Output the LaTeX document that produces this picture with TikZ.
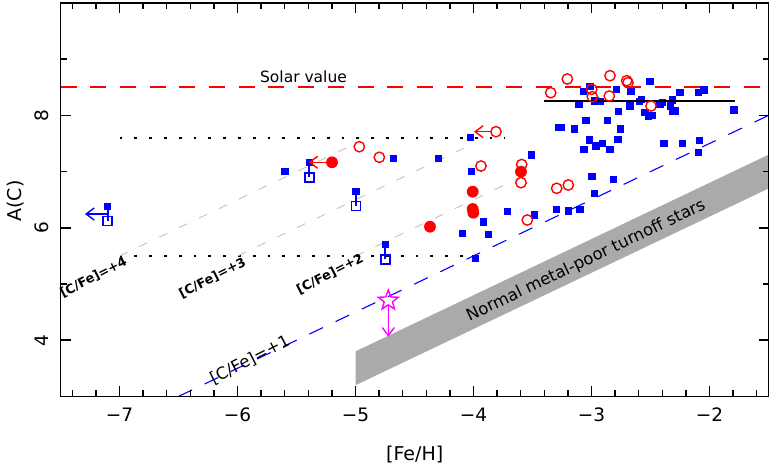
\documentclass[tikz,border=0pt]{standalone}
\usepackage{fontspec}
\setmainfont{DejaVu Sans}
\usetikzlibrary{arrows.meta,shapes.geometric}
\definecolor{bandgray}{RGB}{170,170,170}
\definecolor{cfegray}{RGB}{195,195,195}
\definecolor{pred}{RGB}{255,0,0}
\definecolor{pblue}{RGB}{0,0,255}
\definecolor{pmag}{RGB}{255,0,255}
\tikzset{
  axisline/.style={line width=1.5pt, black},
  tickline/.style={line width=1.5pt, black},
  bsq/.style={rectangle, fill=pblue, draw=none, minimum size=7.2pt, inner sep=0pt},
  osq/.style={rectangle, draw=pblue, line width=1.7pt, fill=none, minimum size=9pt, inner sep=0pt},
  ocirc/.style={circle, draw=pred, line width=1.4pt, minimum size=10.4pt, inner sep=0pt},
  fcirc/.style={circle, fill=pred, draw=none, minimum size=11.8pt, inner sep=0pt},
  magstar/.style={star, star points=5, star point ratio=2.4, draw=pmag, line width=1.4pt, minimum size=21pt, inner sep=0pt},
  barb/.style={line width=1.4pt, -{Straight Barb[length=8pt,width=12pt]}},
  link/.style={draw=pblue, line width=1.7pt},
  cfeline/.style={draw=cfegray, line width=0.9pt, dash pattern=on 9pt off 13pt},
  oneline/.style={draw=pblue, line width=1.1pt, dash pattern=on 15pt off 14pt},
  solarline/.style={draw=pred, line width=1.9pt, dash pattern=on 16pt off 13.7pt},
  dotline/.style={draw=black, line width=2pt, dash pattern=on 2.8pt off 12pt},
  ticklab/.style={font=\fontsize{18.5}{20}\selectfont, inner sep=0pt},
  axlab/.style={font=\fontsize{19}{21}\selectfont, inner sep=0pt},
  cfelab/.style={font=\bfseries\fontsize{12.8}{14}\selectfont, inner sep=0pt, rotate=27},
}
\begin{document}
\begin{tikzpicture}[x=1pt,y=-1pt]
\useasboundingbox (0,0) rectangle (772,466);

% gray band of normal turnoff stars
\fill[bandgray] (355.5,385.2) -- (355.5,351.4) -- (768.5,154.7) -- (768.5,188.5) -- cycle;
\node[font=\fontsize{16.5}{18}\selectfont, inner sep=0pt, rotate=25.5] (bandlab) at (586,261) {Normal metal-poor turnoff stars};

% solar value line
\coordinate (sunL) at (60.5,87.3);  \coordinate (sunR) at (768.5,87.3);
\draw[solarline] (sunL) -- (sunR);
\node[font=\fontsize{15.5}{17}\selectfont, inner sep=0pt, anchor=base] (solarlab) at (303.5,82.7) {Solar value};

\coordinate (d1L) at (119.5,137.9); \coordinate (d1R) at (505,137.9);
\coordinate (d2L) at (119.5,255.9); \coordinate (d2R) at (472,255.9);
\draw[dotline] (d1L) -- (d1R);
\draw[dotline] (d2L) -- (d2R);

\coordinate (c4a) at (119.5,256.0); \coordinate (c4b) at (355.5,143.6);
\coordinate (c3a) at (237.5,256.0); \coordinate (c3b) at (473.5,143.6);
\coordinate (c2a) at (355.5,256.0); \coordinate (c2b) at (532.5,171.6);
\draw[cfeline] (c4a) -- (c4b);
\draw[cfeline] (c3a) -- (c3b);
\draw[cfeline] (c2a) -- (c2b);
\coordinate (c1a) at (178.5,396.4); \coordinate (c1b) at (768.5,115.4);
\draw[oneline] (c1a) -- (c1b);

\node[cfelab] (l4) at (93.5,277.5) {[C/Fe]=+4};
\node[cfelab] (l3) at (212.5,278) {[C/Fe]=+3};
\node[cfelab] (l2) at (330,274) {[C/Fe]=+2};
\node[font=\fontsize{16.5}{18}\selectfont, inner sep=0pt, rotate=27] (l1) at (250,360) {[C/Fe]=+1};

% blue filled squares
\foreach \x/\y [count=\i] in {285/171.7, 393.3/158.7, 438.3/158.7, 470.5/137.8, 471.7/171.3, 507.8/211.3, 483.3/222, 462.2/233.3, 488.2/234.3, 475.5/258.2,
 650/81.7, 590/86.7, 583.3/91.7, 616.7/89.3, 631/91.7, 680/92.3, 698.3/92.7, 704/90, 595/101, 600/101.7, 579/104.3, 639.3/101.7, 641.7/99.3, 630/106, 662.7/102.7, 660/104, 672.7/100, 670.7/106, 618.3/111.7, 645/112.7, 648.3/116.7, 652.3/115.7, 672.7/111, 675.3/111, 734/110, 586/120.7, 607.3/120.7, 558.3/127.3, 561.3/127.3, 574.3/129, 620.7/129, 589.3/140, 602.7/143.3, 596/146, 618/139.3, 584/149.3, 610/149.3, 664/143.3, 682.7/143.3, 699.3/140.7, 698.3/152.7, 531.7/155, 592/176.7, 613.3/179.3, 594.3/193.7, 534.3/215, 556.7/209.3, 568.3/211, 580/209.3}
  \node[bsq] (b\i) at (\x,\y) {};

% mean line
\coordinate (mL) at (544.3,101); \coordinate (mR) at (735,101);
\draw[draw=black, line width=1.6pt] (mL) -- (mR);

% filled/open square pairs
\foreach \x/\ya/\yb [count=\i] in {107.7/206.7/221, 309.3/162.5/177.3, 356/191.5/206, 385.3/244.3/259.3} {
  \node[bsq] (pf\i) at (\x,\ya) {};
  \node[osq] (po\i) at (\x,\yb) {};
  \draw[link] (pf\i.center) -- (po\i.center);
}
\coordinate (ba1) at (107.7,214); \coordinate (ba2) at (85,214);
\draw[barb, draw=pblue] (ba1) -- (ba2);

% red open circles
\foreach \x/\y [count=\i] in {496/131.7, 359.3/146.7, 379.3/157.3, 481/166, 521.7/164.5, 521/182.7, 527.3/220, 556.7/188.3, 568.3/185, 567.3/79, 610/75.7, 626.7/80.7, 628/82.7, 550.7/92.7, 591.7/89.3, 592.3/96.7, 609.3/96, 651/106}
  \node[ocirc] (r\i) at (\x,\y) {};

% red filled circles
\foreach \x/\y [count=\i] in {332/162.3, 430/226.7, 472.7/191.7, 472.7/209, 473.3/212.7, 521/171.7}
  \node[fcirc] (f\i) at (\x,\y) {};

\coordinate (ra1) at (474,131.7);
\draw[barb, draw=pred] (r1.west) -- (ra1);
\coordinate (ra2) at (308.5,162.3);
\draw[barb, draw=pred] (f1.west) -- (ra2);

% magenta star with arrow
\node[magstar] (ms) at (388.3,300.5) {};
\coordinate (msa) at (388.3,305.5); \coordinate (msb) at (388.3,336.7);
\draw[barb, draw=pmag] (msa) -- (msb);

% frame and ticks
\draw[axisline] (60.5,3) rectangle (768.5,396.4);
\foreach \k in {0,...,29} {
  \pgfmathsetmacro\xx{72.3+23.6*\k}
  \draw[tickline] (\xx,396.4) -- (\xx,390.4);
  \draw[tickline] (\xx,3) -- (\xx,9);
}
\foreach \xx in {119.5,237.5,355.5,473.5,591.5,709.5} {
  \draw[tickline] (\xx,396.4) -- (\xx,386.4);
  \draw[tickline] (\xx,3) -- (\xx,13);
}
\foreach \yy in {284.0,171.6,59.2} {
  \draw[tickline] (60.5,\yy) -- (66.5,\yy);
  \draw[tickline] (768.5,\yy) -- (762.5,\yy);
}
\foreach \yy in {340.2,227.8,115.4} {
  \draw[tickline] (60.5,\yy) -- (70.5,\yy);
  \draw[tickline] (768.5,\yy) -- (758.5,\yy);
}

% tick labels
\foreach \xx/\lab [count=\i] in {119.5/−7, 237.5/−6, 355.5/−5, 473.5/−4, 591.5/−3, 709.5/−2}
  \node[ticklab, anchor=base] (xt\i) at (\xx,421.7) {\lab};
\foreach \yy/\lab [count=\i] in {340.2/4, 227.8/6, 115.4/8}
  \node[ticklab, anchor=base, rotate=90] (yt\i) at (48.3,\yy) {\lab};

\node[axlab, anchor=base] (xlab) at (414.7,460) {[Fe/H]};
\node[axlab, anchor=base, rotate=90] (ylab) at (21.7,201) {A(C)};
\end{tikzpicture}
\end{document}
